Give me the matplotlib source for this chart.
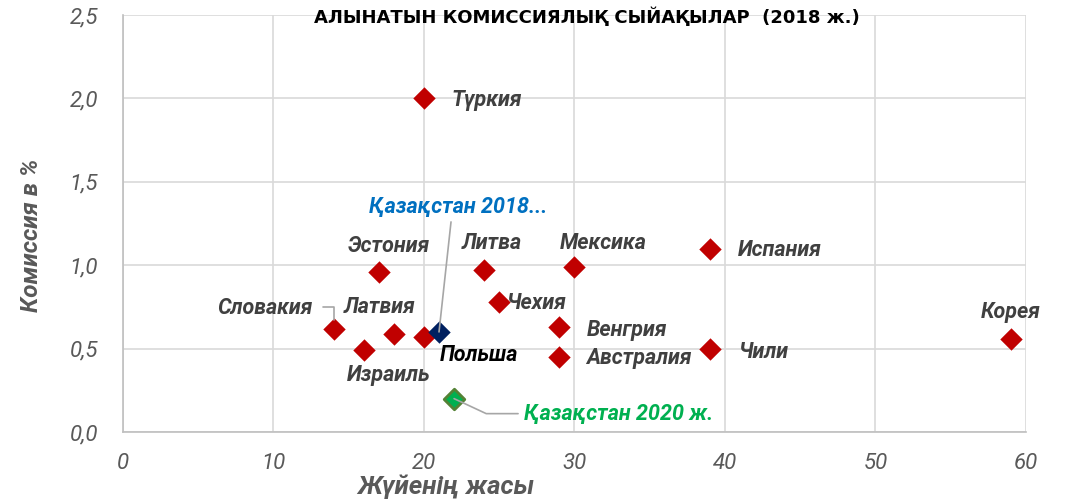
import matplotlib
matplotlib.use("Agg")
import matplotlib.pyplot as plt
from matplotlib.ticker import FuncFormatter

# data
countries = ["Түркия", "Эстония", "Литва", "Мексика", "Испания", "Чехия",
             "Словакия", "Латвия", "Польша", "Израиль", "Венгрия",
             "Австралия", "Чили", "Корея"]
age = [20, 17, 24, 30, 39, 25, 14, 18, 20, 16, 29, 29, 39, 59]
commission = [2.0, 0.96, 0.97, 0.99, 1.10, 0.78, 0.62, 0.59, 0.57, 0.49,
              0.63, 0.45, 0.50, 0.56]

kz_labels = ["Қазақстан 2018...", "Қазақстан 2020 ж."]
kz_age = [21, 22]
kz_commission = [0.60, 0.20]

# label offsets in pixels (dx, dy, ha)
offsets = {
    "Түркия": (28, -2, "left"),
    "Эстония": (10, 26, "center"),
    "Литва": (8, 27, "center"),
    "Мексика": (29, 24, "center"),
    "Испания": (28, -1, "left"),
    "Чехия": (7, -1, "left"),
    "Словакия": (-21, 21, "right"),
    "Латвия": (-14, 27, "center"),
    "Польша": (16, -18, "left"),
    "Израиль": (25, -25, "center"),
    "Венгрия": (27, -3, "left"),
    "Австралия": (27, -1, "left"),
    "Чили": (28, -3, "left"),
    "Корея": (0, 27, "center"),
}

font = ["Roboto", "DejaVu Sans"]
grey_txt = "#404040"
lab_size = 15.5

fig = plt.figure(figsize=(10.81, 5), dpi=100)
ax = fig.add_axes([0.1138, 0.136, 0.8352, 0.834])

ax.scatter(age, commission, marker="D", s=130, color="#C00000", zorder=3, linewidths=0)
ax.scatter(kz_age[:1], kz_commission[:1], marker="D", s=130, color="#002060", zorder=4, linewidths=0)
ax.scatter(kz_age[1:], kz_commission[1:], marker="D", s=110, color="#00B050",
           edgecolors="#548235", linewidths=2, zorder=4)

for name, x, y in zip(countries, age, commission):
    dx, dy, ha = offsets[name]
    col = "black" if name == "Польша" else grey_txt
    ax.annotate(name, (x, y), xytext=(dx, dy), textcoords="offset pixels",
                ha=ha, va="center", fontsize=lab_size, fontweight="bold",
                fontstyle="italic", color=col, family=font, zorder=5)

# Slovakia leader
ax.annotate("", (age[6], commission[6]), xytext=(-11, 22), textcoords="offset pixels",
            arrowprops=dict(arrowstyle="-", color="#A6A6A6", lw=1.2,
                            connectionstyle="angle,angleA=0,angleB=90,rad=0",
                            shrinkA=0, shrinkB=6))

# Kazakhstan labels with leaders
ax.annotate(kz_labels[0], (kz_age[0], kz_commission[0]), xytext=(19, 125),
            textcoords="offset pixels", ha="center", va="center", fontsize=lab_size,
            fontweight="bold", fontstyle="italic", color="#0070C0", family=font,
            zorder=5)
ax.annotate("", (kz_age[0], kz_commission[0]), xytext=(12, 110),
            textcoords="offset pixels",
            arrowprops=dict(arrowstyle="-", color="#A6A6A6", lw=1.2, shrinkA=0, shrinkB=0),
            zorder=4)
ax.annotate(kz_labels[1], (kz_age[1], kz_commission[1]), xytext=(70, -15),
            textcoords="offset pixels", ha="left", va="center", fontsize=lab_size,
            fontweight="bold", fontstyle="italic", color="#00B050", family=font,
            zorder=5)
ax.annotate("", (kz_age[1], kz_commission[1]), xytext=(64, -15),
            textcoords="offset pixels",
            arrowprops=dict(arrowstyle="-", color="#A6A6A6", lw=1.2, shrinkA=0, shrinkB=0,
                            connectionstyle="angle,angleA=0,angleB=-25,rad=0"),
            zorder=4)

ax.set_xlim(0, 60)
ax.set_ylim(0, 2.5)
ax.set_xticks(range(0, 61, 10))
ax.set_yticks([0, 0.5, 1.0, 1.5, 2.0, 2.5])
ax.yaxis.set_major_formatter(FuncFormatter(lambda v, p: f"{v:.1f}".replace(".", ",")))
ax.grid(True, color="#D9D9D9", lw=1.2)
ax.set_axisbelow(True)
for s in ["top", "right"]:
    ax.spines[s].set_visible(False)
for s in ["left", "bottom"]:
    ax.spines[s].set_color("#BFBFBF")
    ax.spines[s].set_linewidth(1.2)
ax.tick_params(length=0, labelsize=16, labelcolor="#595959")
ax.tick_params(axis="x", pad=15)
ax.tick_params(axis="y", pad=18)
for lbl in ax.get_xticklabels() + ax.get_yticklabels():
    lbl.set_fontstyle("italic")
    lbl.set_family(font)

fig.text(0.543, 0.966, "АЛЫНАТЫН КОМИССИЯЛЫҚ СЫЙАҚЫЛАР  (2018 ж.)", ha="center",
         va="center", fontsize=13, fontweight="bold",
         family=["Liberation Sans Narrow", "DejaVu Sans Condensed", "DejaVu Sans"])
fig.text(0.0296, 0.53, "Комиссия в %", rotation=90, ha="center", va="center",
         fontsize=17.5, fontweight="bold", fontstyle="italic", color="#595959", family=font)
fig.text(0.412, 0.026, "Жүйенің жасы", ha="center", va="center", fontsize=18.5,
         fontweight="bold", fontstyle="italic", color="#595959", family=font)

fig.savefig("out.png", dpi=100)
